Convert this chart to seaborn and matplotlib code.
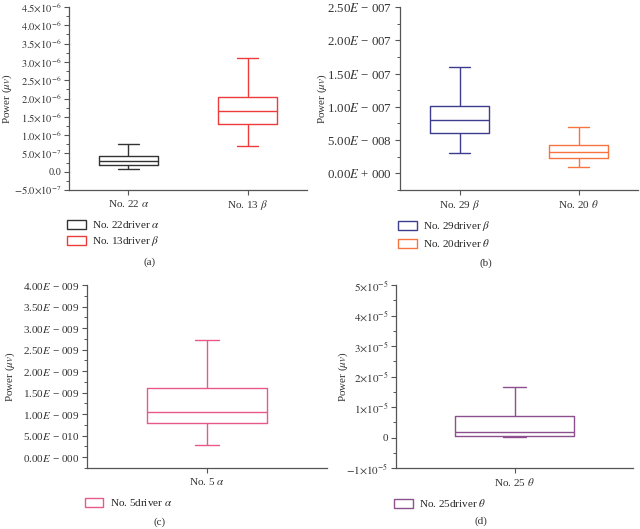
import numpy as np
import pandas as pd
import seaborn as sns
import matplotlib.pyplot as plt
from matplotlib.patches import Patch
from matplotlib.ticker import AutoMinorLocator

# five-number summaries: low whisker, Q1, median, Q3, high whisker
a_names  = ['No. 22 $\\alpha$', 'No. 13 $\\beta$']
a_legend = ['No. 22driver $\\alpha$', 'No. 13driver $\\beta$']
a_low    = [7e-8, 7e-7]
a_q1     = [1.8e-7, 1.3e-6]
a_med    = [2.8e-7, 1.65e-6]
a_q3     = [4.2e-7, 2.05e-6]
a_high   = [7.5e-7, 3.1e-6]
a_ticks  = [-5e-7, 0, 5e-7, 1e-6, 1.5e-6, 2e-6, 2.5e-6, 3e-6, 3.5e-6, 4e-6, 4.5e-6]
a_labels = ['$-5.0{\\times}10^{-7}$', '0.0', '$5.0{\\times}10^{-7}$', '$1.0{\\times}10^{-6}$',
            '$1.5{\\times}10^{-6}$', '$2.0{\\times}10^{-6}$', '$2.5{\\times}10^{-6}$',
            '$3.0{\\times}10^{-6}$', '$3.5{\\times}10^{-6}$', '$4.0{\\times}10^{-6}$',
            '$4.5{\\times}10^{-6}$']

b_names  = ['No. 29 $\\beta$', 'No. 20 $\\theta$']
b_legend = ['No. 29driver $\\beta$', 'No. 20driver $\\theta$']
b_low    = [3e-8, 1e-8]
b_q1     = [6e-8, 2.3e-8]
b_med    = [8e-8, 3.2e-8]
b_q3     = [1.01e-7, 4.3e-8]
b_high   = [1.6e-7, 7e-8]
b_ticks  = [0, 5e-8, 1e-7, 1.5e-7, 2e-7, 2.5e-7]
b_labels = ['0.00$E$ + 000', '5.00$E$ − 008', '1.00$E$ − 007', '1.50$E$ − 007',
            '2.00$E$ − 007', '2.50$E$ − 007']

c_names  = ['No. 5 $\\alpha$']
c_legend = ['No. 5driver $\\alpha$']
c_low    = [2.8e-10]
c_q1     = [8e-10]
c_med    = [1.05e-9]
c_q3     = [1.6e-9]
c_high   = [2.72e-9]
c_ticks  = [0, 5e-10, 1e-9, 1.5e-9, 2e-9, 2.5e-9, 3e-9, 3.5e-9, 4e-9]
c_labels = ['0.00$E$ − 000', '5.00$E$ − 010', '1.00$E$ − 009', '1.50$E$ − 009',
            '2.00$E$ − 009', '2.50$E$ − 009', '3.00$E$ − 009', '3.50$E$ − 009',
            '4.00$E$ − 009']

d_names  = ['No. 25 $\\theta$']
d_legend = ['No. 25driver $\\theta$']
d_low    = [0.5e-7]
d_q1     = [5.3e-7]
d_med    = [1.65e-6]
d_q3     = [6.9e-6]
d_high   = [1.64e-5]
d_ticks  = [-1e-5, 0, 1e-5, 2e-5, 3e-5, 4e-5, 5e-5]
d_labels = ['$-1{\\times}10^{-5}$', '0', '$1{\\times}10^{-5}$', '$2{\\times}10^{-5}$',
            '$3{\\times}10^{-5}$', '$4{\\times}10^{-5}$', '$5{\\times}10^{-5}$']

sns.set_style('ticks')
plt.rcParams['font.family'] = ['Liberation Serif', 'DejaVu Serif']
plt.rcParams['mathtext.fontset'] = 'stix'
plt.rcParams['font.size'] = 8


def summary_df(names, low, q1, med, q3, high):
    # 5 values per box -> linear quartiles land exactly on q1/q3
    rows = []
    for i, n in enumerate(names):
        for v in (low[i], q1[i], med[i], q3[i], high[i]):
            rows.append({'cat': n, 'val': v})
    return pd.DataFrame(rows)


def panel(rect, names, legend, stats, colors, ylim, ticks, labels, xlim, capw,
          ylab_x, ysize, tag, tag_xy):
    ax = fig.add_axes(rect)
    df = summary_df(names, *stats)
    sns.boxplot(data=df, x='cat', y='val', hue='cat', palette=colors, fill=False,
                whis=(0, 100), width=0.5, linewidth=1.0, legend=False, ax=ax,
                capwidths=capw)
    ax.set_ylim(*ylim)
    ax.set_xlim(*xlim)
    ax.set_yticks(ticks)
    ax.set_yticklabels(labels)
    ax.yaxis.set_minor_locator(AutoMinorLocator(2))
    ax.set_xlabel('')
    ax.set_ylabel('Power ($\\mu v$)', fontsize=8, color='#333333')
    ax.yaxis.set_label_coords(ylab_x, 0.5)
    sns.despine(ax=ax)
    for s in ['left', 'bottom']:
        ax.spines[s].set_color('#555555')
        ax.spines[s].set_linewidth(0.9)
    ax.tick_params(axis='both', which='major', length=3.5, width=0.8, color='#555555',
                   labelsize=8, labelcolor='#333333', pad=2)
    ax.tick_params(axis='y', which='major', labelsize=ysize)
    ax.tick_params(axis='y', which='minor', length=2, width=0.7, color='#555555')
    handles = [Patch(facecolor='white', edgecolor=c, linewidth=1.0) for c in colors]
    ax.legend(handles, legend, loc='upper left', bbox_to_anchor=(-0.01, -0.16),
              frameon=False, fontsize=8, handlelength=1.7, handleheight=0.9,
              handletextpad=0.6, labelspacing=0.35, borderaxespad=0, borderpad=0)
    fig.text(tag_xy[0], tag_xy[1], tag, fontsize=8, color='#333333', ha='center', va='center')
    return ax


fig = plt.figure(figsize=(6.4, 5.29), dpi=100)

panel([0.1078, 0.6408, 0.3719, 0.3459], a_names, a_legend,
      (a_low, a_q1, a_med, a_q3, a_high), ['#333333', '#ee3b3b'],
      (-5e-7, 4.5e-6), a_ticks, a_labels, (-0.5, 1.5), 0.17, -0.232, 7.5, '(a)', (0.234, 0.505))

panel([0.625, 0.6408, 0.3719, 0.3459], b_names, b_legend,
      (b_low, b_q1, b_med, b_q3, b_high), ['#3d3d8f', '#f5743f'],
      (-2.5e-8, 2.5e-7), b_ticks, b_labels, (-0.5, 1.5), 0.17, -0.298, 9.3, '(b)', (0.759, 0.503))

panel([0.1359, 0.1153, 0.375, 0.3459], c_names, c_legend,
      (c_low, c_q1, c_med, c_q3, c_high), ['#e8588a'],
      (-2.5e-10, 4e-9), c_ticks, c_labels, (-0.5, 0.5), 0.1, -0.29, 8, '(c)', (0.25, 0.013))

panel([0.6188, 0.1153, 0.3703, 0.3459], d_names, d_legend,
      (d_low, d_q1, d_med, d_q3, d_high), ['#8e4f8e'],
      (-1e-5, 5e-5), d_ticks, d_labels, (-0.5, 0.5), 0.1, -0.194, 8, '(d)', (0.752, 0.015))

fig.savefig('out.png', dpi=100)
